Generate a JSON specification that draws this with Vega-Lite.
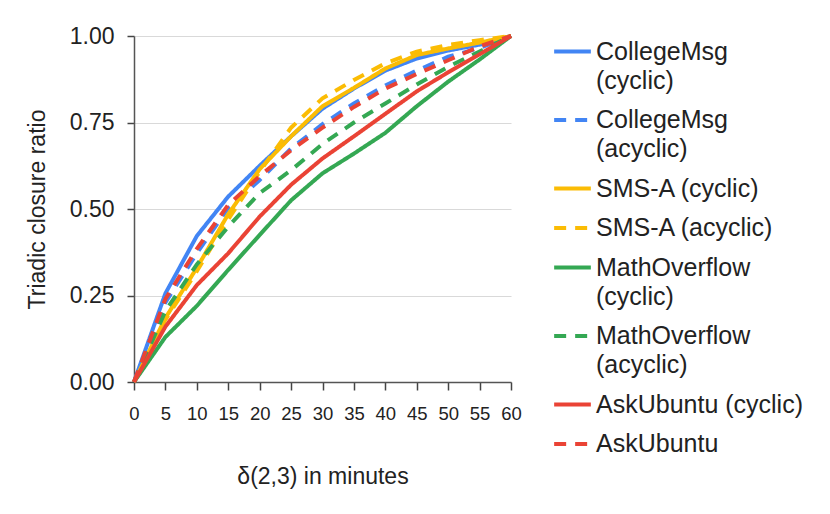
{
  "$schema": "https://vega.github.io/schema/vega-lite/v6.json",
  "width": 377,
  "height": 346,
  "autosize": {"type": "none"},
  "padding": {"left": 134, "top": 36, "right": 319, "bottom": 132},
  "background": "white",
  "data": {
    "values": [
      {"series": "CollegeMsg (cyclic)", "minutes": 0, "ratio": 0},
      {"series": "CollegeMsg (cyclic)", "minutes": 5, "ratio": 0.256},
      {"series": "CollegeMsg (cyclic)", "minutes": 10, "ratio": 0.422},
      {"series": "CollegeMsg (cyclic)", "minutes": 15, "ratio": 0.536},
      {"series": "CollegeMsg (cyclic)", "minutes": 20, "ratio": 0.625},
      {"series": "CollegeMsg (cyclic)", "minutes": 25, "ratio": 0.71},
      {"series": "CollegeMsg (cyclic)", "minutes": 30, "ratio": 0.79},
      {"series": "CollegeMsg (cyclic)", "minutes": 35, "ratio": 0.848},
      {"series": "CollegeMsg (cyclic)", "minutes": 40, "ratio": 0.9},
      {"series": "CollegeMsg (cyclic)", "minutes": 45, "ratio": 0.935},
      {"series": "CollegeMsg (cyclic)", "minutes": 50, "ratio": 0.958},
      {"series": "CollegeMsg (cyclic)", "minutes": 55, "ratio": 0.975},
      {"series": "CollegeMsg (cyclic)", "minutes": 60, "ratio": 1},
      {"series": "CollegeMsg (acyclic)", "minutes": 0, "ratio": 0},
      {"series": "CollegeMsg (acyclic)", "minutes": 5, "ratio": 0.23},
      {"series": "CollegeMsg (acyclic)", "minutes": 10, "ratio": 0.372},
      {"series": "CollegeMsg (acyclic)", "minutes": 15, "ratio": 0.503},
      {"series": "CollegeMsg (acyclic)", "minutes": 20, "ratio": 0.584},
      {"series": "CollegeMsg (acyclic)", "minutes": 25, "ratio": 0.675},
      {"series": "CollegeMsg (acyclic)", "minutes": 30, "ratio": 0.745},
      {"series": "CollegeMsg (acyclic)", "minutes": 35, "ratio": 0.805},
      {"series": "CollegeMsg (acyclic)", "minutes": 40, "ratio": 0.857},
      {"series": "CollegeMsg (acyclic)", "minutes": 45, "ratio": 0.9},
      {"series": "CollegeMsg (acyclic)", "minutes": 50, "ratio": 0.94},
      {"series": "CollegeMsg (acyclic)", "minutes": 55, "ratio": 0.965},
      {"series": "CollegeMsg (acyclic)", "minutes": 60, "ratio": 1},
      {"series": "SMS-A (cyclic)", "minutes": 0, "ratio": 0},
      {"series": "SMS-A (cyclic)", "minutes": 5, "ratio": 0.185},
      {"series": "SMS-A (cyclic)", "minutes": 10, "ratio": 0.33},
      {"series": "SMS-A (cyclic)", "minutes": 15, "ratio": 0.485},
      {"series": "SMS-A (cyclic)", "minutes": 20, "ratio": 0.615},
      {"series": "SMS-A (cyclic)", "minutes": 25, "ratio": 0.71},
      {"series": "SMS-A (cyclic)", "minutes": 30, "ratio": 0.797},
      {"series": "SMS-A (cyclic)", "minutes": 35, "ratio": 0.85},
      {"series": "SMS-A (cyclic)", "minutes": 40, "ratio": 0.906},
      {"series": "SMS-A (cyclic)", "minutes": 45, "ratio": 0.945},
      {"series": "SMS-A (cyclic)", "minutes": 50, "ratio": 0.964},
      {"series": "SMS-A (cyclic)", "minutes": 55, "ratio": 0.981},
      {"series": "SMS-A (cyclic)", "minutes": 60, "ratio": 1},
      {"series": "SMS-A (acyclic)", "minutes": 0, "ratio": 0},
      {"series": "SMS-A (acyclic)", "minutes": 5, "ratio": 0.18},
      {"series": "SMS-A (acyclic)", "minutes": 10, "ratio": 0.32},
      {"series": "SMS-A (acyclic)", "minutes": 15, "ratio": 0.47},
      {"series": "SMS-A (acyclic)", "minutes": 20, "ratio": 0.608},
      {"series": "SMS-A (acyclic)", "minutes": 25, "ratio": 0.735},
      {"series": "SMS-A (acyclic)", "minutes": 30, "ratio": 0.82},
      {"series": "SMS-A (acyclic)", "minutes": 35, "ratio": 0.873},
      {"series": "SMS-A (acyclic)", "minutes": 40, "ratio": 0.921},
      {"series": "SMS-A (acyclic)", "minutes": 45, "ratio": 0.955},
      {"series": "SMS-A (acyclic)", "minutes": 50, "ratio": 0.974},
      {"series": "SMS-A (acyclic)", "minutes": 55, "ratio": 0.988},
      {"series": "SMS-A (acyclic)", "minutes": 60, "ratio": 1},
      {"series": "MathOverflow (cyclic)", "minutes": 0, "ratio": 0},
      {"series": "MathOverflow (cyclic)", "minutes": 5, "ratio": 0.13},
      {"series": "MathOverflow (cyclic)", "minutes": 10, "ratio": 0.22},
      {"series": "MathOverflow (cyclic)", "minutes": 15, "ratio": 0.324},
      {"series": "MathOverflow (cyclic)", "minutes": 20, "ratio": 0.425},
      {"series": "MathOverflow (cyclic)", "minutes": 25, "ratio": 0.525},
      {"series": "MathOverflow (cyclic)", "minutes": 30, "ratio": 0.603},
      {"series": "MathOverflow (cyclic)", "minutes": 35, "ratio": 0.66},
      {"series": "MathOverflow (cyclic)", "minutes": 40, "ratio": 0.72},
      {"series": "MathOverflow (cyclic)", "minutes": 45, "ratio": 0.797},
      {"series": "MathOverflow (cyclic)", "minutes": 50, "ratio": 0.868},
      {"series": "MathOverflow (cyclic)", "minutes": 55, "ratio": 0.932},
      {"series": "MathOverflow (cyclic)", "minutes": 60, "ratio": 1},
      {"series": "MathOverflow (acyclic)", "minutes": 0, "ratio": 0},
      {"series": "MathOverflow (acyclic)", "minutes": 5, "ratio": 0.205},
      {"series": "MathOverflow (acyclic)", "minutes": 10, "ratio": 0.34},
      {"series": "MathOverflow (acyclic)", "minutes": 15, "ratio": 0.449},
      {"series": "MathOverflow (acyclic)", "minutes": 20, "ratio": 0.546},
      {"series": "MathOverflow (acyclic)", "minutes": 25, "ratio": 0.612},
      {"series": "MathOverflow (acyclic)", "minutes": 30, "ratio": 0.688},
      {"series": "MathOverflow (acyclic)", "minutes": 35, "ratio": 0.75},
      {"series": "MathOverflow (acyclic)", "minutes": 40, "ratio": 0.805},
      {"series": "MathOverflow (acyclic)", "minutes": 45, "ratio": 0.86},
      {"series": "MathOverflow (acyclic)", "minutes": 50, "ratio": 0.911},
      {"series": "MathOverflow (acyclic)", "minutes": 55, "ratio": 0.955},
      {"series": "MathOverflow (acyclic)", "minutes": 60, "ratio": 1},
      {"series": "AskUbuntu (cyclic)", "minutes": 0, "ratio": 0},
      {"series": "AskUbuntu (cyclic)", "minutes": 5, "ratio": 0.16},
      {"series": "AskUbuntu (cyclic)", "minutes": 10, "ratio": 0.28},
      {"series": "AskUbuntu (cyclic)", "minutes": 15, "ratio": 0.372},
      {"series": "AskUbuntu (cyclic)", "minutes": 20, "ratio": 0.478},
      {"series": "AskUbuntu (cyclic)", "minutes": 25, "ratio": 0.57},
      {"series": "AskUbuntu (cyclic)", "minutes": 30, "ratio": 0.646},
      {"series": "AskUbuntu (cyclic)", "minutes": 35, "ratio": 0.71},
      {"series": "AskUbuntu (cyclic)", "minutes": 40, "ratio": 0.775},
      {"series": "AskUbuntu (cyclic)", "minutes": 45, "ratio": 0.84},
      {"series": "AskUbuntu (cyclic)", "minutes": 50, "ratio": 0.895},
      {"series": "AskUbuntu (cyclic)", "minutes": 55, "ratio": 0.947},
      {"series": "AskUbuntu (cyclic)", "minutes": 60, "ratio": 1},
      {"series": "AskUbuntu (acyclic)", "minutes": 0, "ratio": 0},
      {"series": "AskUbuntu (acyclic)", "minutes": 5, "ratio": 0.24},
      {"series": "AskUbuntu (acyclic)", "minutes": 10, "ratio": 0.385},
      {"series": "AskUbuntu (acyclic)", "minutes": 15, "ratio": 0.512},
      {"series": "AskUbuntu (acyclic)", "minutes": 20, "ratio": 0.595},
      {"series": "AskUbuntu (acyclic)", "minutes": 25, "ratio": 0.67},
      {"series": "AskUbuntu (acyclic)", "minutes": 30, "ratio": 0.735},
      {"series": "AskUbuntu (acyclic)", "minutes": 35, "ratio": 0.795},
      {"series": "AskUbuntu (acyclic)", "minutes": 40, "ratio": 0.848},
      {"series": "AskUbuntu (acyclic)", "minutes": 45, "ratio": 0.89},
      {"series": "AskUbuntu (acyclic)", "minutes": 50, "ratio": 0.93},
      {"series": "AskUbuntu (acyclic)", "minutes": 55, "ratio": 0.97},
      {"series": "AskUbuntu (acyclic)", "minutes": 60, "ratio": 1}
    ]
  },
  "mark": {"type": "line", "strokeWidth": 4, "clip": false},
  "encoding": {
    "x": {
      "field": "minutes",
      "type": "quantitative",
      "scale": {"domain": [0, 60], "nice": false},
      "axis": {
        "values": [0, 5, 10, 15, 20, 25, 30, 35, 40, 45, 50, 55, 60],
        "title": "δ(2,3) in minutes",
        "grid": false,
        "tickSize": 8,
        "labelPadding": 14,
        "labelFontSize": 18.5,
        "titleFontSize": 23,
        "titleY": 94,
        "titleBaseline": "middle",
        "labelFlush": false,
        "labelOverlap": false
      }
    },
    "y": {
      "field": "ratio",
      "type": "quantitative",
      "scale": {"domain": [0, 1], "nice": false},
      "axis": {
        "values": [0, 0.25, 0.5, 0.75, 1],
        "format": ".2f",
        "title": "Triadic closure ratio",
        "tickSize": 7,
        "labelPadding": 13,
        "labelFontSize": 23,
        "titleFontSize": 23,
        "titleX": -97,
        "titleY": 173,
        "titleBaseline": "middle",
        "grid": true,
        "gridColor": "#d9d9d9",
        "gridWidth": 1.2,
        "labelFlush": false,
        "labelOverlap": false
      }
    },
    "color": {
      "field": "series",
      "type": "nominal",
      "scale": {
        "domain": ["CollegeMsg (cyclic)", "CollegeMsg (acyclic)", "SMS-A (cyclic)", "SMS-A (acyclic)", "MathOverflow (cyclic)", "MathOverflow (acyclic)", "AskUbuntu (cyclic)", "AskUbuntu (acyclic)"],
        "range": ["#4285F4", "#4285F4", "#FBBC04", "#FBBC04", "#34A853", "#34A853", "#EA4335", "#EA4335"]
      },
      "legend": {
        "orient": "none",
        "legendX": 418,
        "legendY": -5,
        "direction": "vertical",
        "title": null,
        "padding": 0,
        "symbolType": "stroke",
        "symbolSize": 1347,
        "symbolStrokeWidth": 4,
        "labelFontSize": 25,
        "labelColor": "#222",
        "labelLimit": 300,
        "labelOffset": 3,
        "rowPadding": 5.5,
        "labelExpr": "datum.label == 'CollegeMsg (cyclic)' ? ['CollegeMsg', '(cyclic)'] : datum.label == 'CollegeMsg (acyclic)' ? ['CollegeMsg', '(acyclic)'] : datum.label == 'MathOverflow (cyclic)' ? ['MathOverflow', '(cyclic)'] : datum.label == 'MathOverflow (acyclic)' ? ['MathOverflow', '(acyclic)'] : datum.label == 'AskUbuntu (acyclic)' ? 'AskUbuntu' : datum.label"
      }
    },
    "strokeDash": {
      "field": "series",
      "type": "nominal",
      "scale": {
        "domain": ["CollegeMsg (cyclic)", "CollegeMsg (acyclic)", "SMS-A (cyclic)", "SMS-A (acyclic)", "MathOverflow (cyclic)", "MathOverflow (acyclic)", "AskUbuntu (cyclic)", "AskUbuntu (acyclic)"],
        "range": [[1, 0], [12, 9], [1, 0], [12, 9], [1, 0], [12, 9], [1, 0], [12, 9]]
      },
      "legend": {
        "orient": "none",
        "legendX": 418,
        "legendY": -5,
        "direction": "vertical",
        "title": null,
        "padding": 0,
        "symbolType": "stroke",
        "symbolSize": 1347,
        "symbolStrokeWidth": 4,
        "labelFontSize": 25,
        "labelColor": "#222",
        "labelLimit": 300,
        "labelOffset": 3,
        "rowPadding": 5.5,
        "labelExpr": "datum.label == 'CollegeMsg (cyclic)' ? ['CollegeMsg', '(cyclic)'] : datum.label == 'CollegeMsg (acyclic)' ? ['CollegeMsg', '(acyclic)'] : datum.label == 'MathOverflow (cyclic)' ? ['MathOverflow', '(cyclic)'] : datum.label == 'MathOverflow (acyclic)' ? ['MathOverflow', '(acyclic)'] : datum.label == 'AskUbuntu (acyclic)' ? 'AskUbuntu' : datum.label"
      }
    }
  },
  "config": {
    "view": {"stroke": null},
    "font": "Liberation Sans",
    "style": {"guide-label": {"lineHeight": 29}},
    "axis": {
      "labelColor": "#222",
      "titleColor": "#222",
      "titleFontWeight": "normal",
      "domainColor": "#555",
      "domainWidth": 1.5,
      "tickColor": "#444",
      "tickWidth": 1.5
    }
  }
}
